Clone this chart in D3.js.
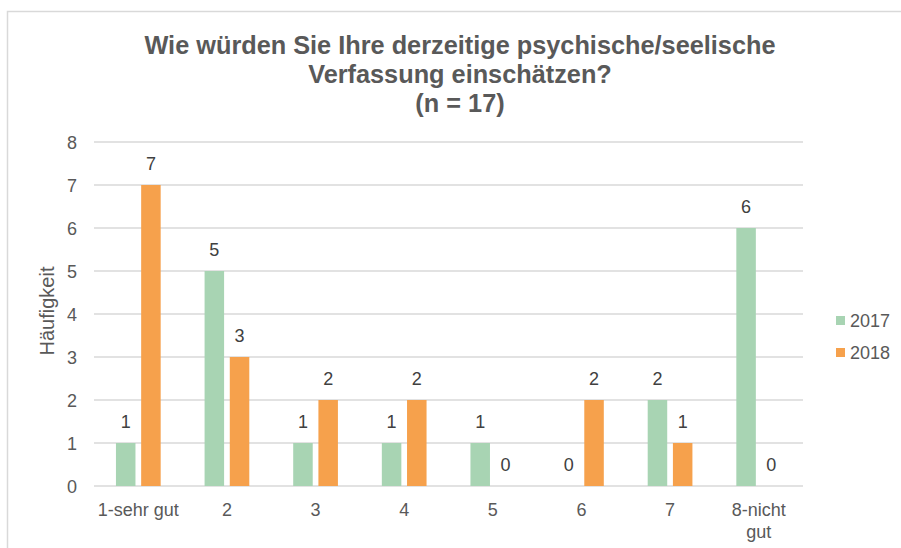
<!DOCTYPE html>
<html><head><meta charset="utf-8">
<script src="https://cdn.jsdelivr.net/npm/d3@7"></script>
<style>body{margin:0;background:#fff}svg{display:block;font-family:"Liberation Sans",Arial,sans-serif}</style>
</head><body>
<script>
const categories = ["1-sehr gut","2","3","4","5","6","7","8-nicht gut"];
const seriesNames = ["2017","2018"];
const values2017 = [1,5,1,1,1,0,2,6];
const values2018 = [7,3,2,2,0,2,1,0];
const yTicks = [0,1,2,3,4,5,6,7,8];
const colors = ["#A8D4B3","#F6A14C"];
const title = ["Wie würden Sie Ihre derzeitige psychische/seelische","Verfassung einschätzen?","(n = 17)"];
const yTitle = "Häufigkeit";

const W=901,H=548;
const svg=d3.select("body").append("svg").attr("width",W).attr("height",H);
svg.append("rect").attr("x",7.5).attr("y",11.5).attr("width",W+10).attr("height",H+10)
  .attr("fill","#fff").attr("stroke","#d9d9d9").attr("stroke-width",1.5);

const x=d3.scaleBand().domain(categories).range([94,803]).paddingInner(0).paddingOuter(0);
const y=d3.scaleLinear().domain([0,8]).range([486,142]);
const x1=d3.scaleBand().domain(seriesNames).range([0,x.bandwidth()]).paddingInner(0.226).paddingOuter(0.871);

const g=svg.append("g");
g.selectAll("line.grid").data(yTicks).join("line").attr("class","grid")
  .attr("x1",94).attr("x2",803).attr("y1",d=>y(d)).attr("y2",d=>y(d))
  .attr("stroke","#d9d9d9").attr("stroke-width",1.5);

const yAxis=d3.axisLeft(y).tickValues(yTicks).tickSize(0).tickPadding(12);
const ya=svg.append("g").attr("transform","translate(77,0)").call(yAxis);
ya.select(".domain").remove();
ya.selectAll("text").attr("font-size",18).attr("fill","#595959").attr("font-family","Liberation Sans, Arial").attr("x",0).attr("dy","0.35em");

const data=categories.map((c,i)=>({c,vals:[values2017[i],values2018[i]]}));
const grp=svg.append("g").selectAll("g").data(data).join("g").attr("transform",d=>`translate(${x(d.c)},0)`);
grp.selectAll("rect").data(d=>d.vals.map((v,j)=>({v,s:seriesNames[j],j}))).join("rect")
  .attr("x",d=>x1(d.s)).attr("width",x1.bandwidth())
  .attr("y",d=>y(d.v)).attr("height",d=>y(0)-y(d.v)).attr("fill",d=>colors[d.j]);
grp.selectAll("text").data(d=>d.vals.map((v,j)=>({v,s:seriesNames[j],j}))).join("text")
  .attr("x",d=>x1(d.s)+x1.bandwidth()/2).attr("y",d=>y(d.v)-15)
  .attr("text-anchor","middle").attr("font-size",18).attr("fill","#404040").text(d=>d.v);

// x labels
const xl=svg.append("g");
categories.forEach(c=>{
  const lines=c==="8-nicht gut"?["8-nicht","gut"]:[c];
  lines.forEach((t,k)=>{
    xl.append("text").attr("x",x(c)+x.bandwidth()/2).attr("y",516+k*22)
      .attr("text-anchor","middle").attr("font-size",18).attr("fill","#595959").text(t);
  });
});

svg.append("text").attr("transform","translate(54,311) rotate(-90)").attr("text-anchor","middle")
  .attr("font-size",20).attr("fill","#595959").text(yTitle);

title.forEach((t,i)=>{
  svg.append("text").attr("x",460).attr("y",54+i*29).attr("text-anchor","middle")
    .attr("font-size",25.3).attr("font-weight","bold").attr("fill","#595959").text(t);
});

const leg=svg.append("g");
seriesNames.forEach((s,i)=>{
  leg.append("rect").attr("x",836).attr("y",316+i*32).attr("width",9).attr("height",9).attr("fill",colors[i]);
  leg.append("text").attr("x",850).attr("y",327+i*32).attr("font-size",18).attr("fill","#595959").text(s);
});
</script>
</body></html>
